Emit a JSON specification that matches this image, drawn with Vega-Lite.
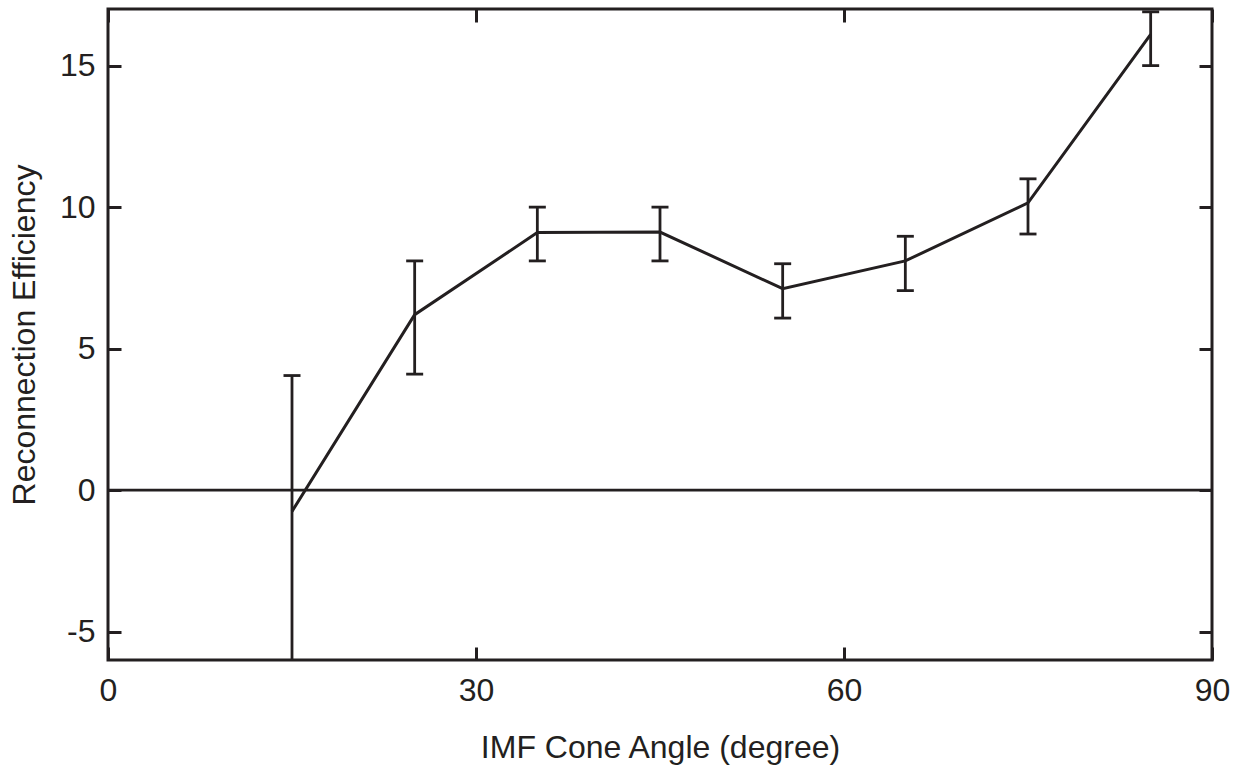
{
  "$schema": "https://vega.github.io/schema/vega-lite/v6.json",
  "width": 1104,
  "height": 651,
  "autosize": {"type": "none"},
  "padding": {"left": 108, "top": 9, "right": 31, "bottom": 107},
  "background": "white",
  "config": {
    "view": {"stroke": "#231f20", "strokeWidth": 3},
    "font": "Liberation Sans",
    "axis": {"grid": false, "domain": false, "tickColor": "#231f20", "tickWidth": 3, "tickSize": -13, "labelFont": "Liberation Sans", "labelFontSize": 32, "labelColor": "#231f20", "labelFlush": false, "titleFont": "Liberation Sans", "titleFontSize": 32, "titleFontWeight": "normal", "titleColor": "#231f20"}
  },
  "data": {"values": [
    {"angle": 15, "eff": -0.75, "lo": -7, "hi": 4.05},
    {"angle": 25, "eff": 6.2, "lo": 4.1, "hi": 8.1},
    {"angle": 35, "eff": 9.1, "lo": 8.1, "hi": 10.0},
    {"angle": 45, "eff": 9.12, "lo": 8.1, "hi": 10.0},
    {"angle": 55, "eff": 7.12, "lo": 6.08, "hi": 8.0},
    {"angle": 65, "eff": 8.1, "lo": 7.05, "hi": 8.97},
    {"angle": 75, "eff": 10.15, "lo": 9.05, "hi": 11.0},
    {"angle": 85, "eff": 16.1, "lo": 15.0, "hi": 16.9}
  ]},
  "layer": [
    {
      "data": {"values": [{"z": 0}]},
      "mark": {"type": "rule", "color": "#231f20", "strokeWidth": 2.8},
      "encoding": {"y": {"field": "z", "type": "quantitative", "scale": {"domain": [-6, 17], "nice": false, "zero": false}, "axis": null}}
    },
    {
      "mark": {"type": "rule", "color": "#231f20", "strokeWidth": 2.8, "clip": true},
      "encoding": {
        "x": {"field": "angle", "type": "quantitative", "scale": {"domain": [0, 90], "nice": false, "zero": false},
          "axis": {"orient": "bottom", "values": [0, 30, 60, 90], "title": "IMF Cone Angle (degree)", "labelPadding": 28, "titlePadding": 26}},
        "y": {"field": "lo", "type": "quantitative", "scale": {"domain": [-6, 17], "nice": false, "zero": false},
          "axis": {"orient": "left", "values": [-5, 0, 5, 10, 15], "labelExpr": "toString(datum.value)", "title": "Reconnection Efficiency", "labelPadding": 26, "titlePadding": 18}},
        "y2": {"field": "hi"}
      }
    },
    {
      "transform": [{"filter": "datum.lo > -6"}],
      "mark": {"type": "tick", "orient": "horizontal", "color": "#231f20", "opacity": 1, "size": 17, "thickness": 2.8},
      "encoding": {
        "x": {"field": "angle", "type": "quantitative", "axis": null},
        "y": {"field": "lo", "type": "quantitative", "axis": null}
      }
    },
    {
      "mark": {"type": "tick", "orient": "horizontal", "color": "#231f20", "opacity": 1, "size": 17, "thickness": 2.8},
      "encoding": {
        "x": {"field": "angle", "type": "quantitative", "axis": null},
        "y": {"field": "hi", "type": "quantitative", "axis": null}
      }
    },
    {
      "mark": {"type": "line", "color": "#231f20", "strokeWidth": 3},
      "encoding": {
        "x": {"field": "angle", "type": "quantitative", "axis": null},
        "y": {"field": "eff", "type": "quantitative", "axis": null}
      }
    },
    {
      "data": {"values": [{"z": 0}]},
      "mark": {"type": "rule", "opacity": 0},
      "encoding": {
        "x": {"field": "z", "type": "quantitative", "axis": {"orient": "top", "values": [0, 30, 60, 90], "labels": false, "title": null}},
        "y": {"field": "z", "type": "quantitative", "axis": {"orient": "right", "values": [-5, 0, 5, 10, 15], "labels": false, "title": null}}
      }
    }
  ],
  "resolve": {"axis": {"x": "independent", "y": "independent"}}
}
